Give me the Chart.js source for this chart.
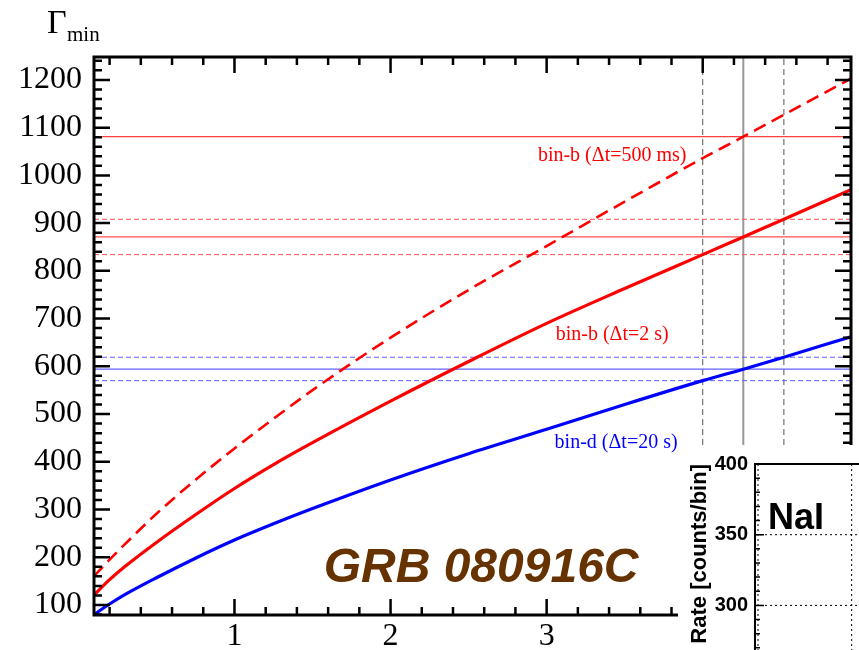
<!DOCTYPE html>
<html>
<head>
<meta charset="utf-8">
<script src="https://cdn.jsdelivr.net/npm/chart.js@4.4.0/dist/chart.umd.min.js"></script>
<style>
  html, body { margin: 0; padding: 0; background: #fff; overflow: hidden; width: 859px; height: 650px; }
  #main { position: absolute; left: 0; top: 0; width: 859px; height: 650px; }
  #inset { position: absolute; left: 678px; top: 445px; width: 222px; height: 260px; background: #fff; }
</style>
</head>
<body>
<div id="main"><canvas id="gammaChart"></canvas></div>
<div id="inset"><canvas id="naiChart"></canvas></div>
<script>
// valores
const tValues     = [0.1, 0.2, 0.3, 0.5, 0.75, 1.0, 1.25, 1.5, 2.0, 2.5, 3.0, 3.5, 4.0, 4.26, 4.52, 4.95];
const gammaB500ms = [160, 195, 228, 291, 362, 428, 490, 550, 660, 760, 852, 945, 1036, 1081, 1127, 1203];
const gammaB2s    = [121, 153, 181, 231, 289, 344, 394, 440, 527, 610, 690, 763, 834, 871, 908, 970];
const gammaD20s   = [80, 102, 122, 157, 198, 236, 270, 302, 362, 417, 468, 520, 570, 594, 619, 662];

const refB500ms = [1081];
const refB2s    = [834, 871, 908];
const refD20s   = [570, 594, 619];
const zLines    = [4.0, 4.26, 4.52];

const xTickValues = [1, 2, 3, 4];
const yTickValues = [100, 200, 300, 400, 500, 600, 700, 800, 900, 1000, 1100, 1200];
const xMin = 0.1, xMax = 4.95, yMin = 79, yMax = 1248;
const zLineLow = 435;

const insetYTicks = [250, 300, 350, 400];
const insetXGrid  = [0, 1];

const RED = '#ff0000', BLUE = '#0000ff';

function curve(vals) { return tValues.map((t, i) => ({ x: t, y: vals[i] })); }
function hLine(v) { return [{ x: xMin, y: v }, { x: xMax, y: v }]; }
function vLine(z) { return [{ x: z, y: zLineLow }, { x: z, y: yMax }]; }

const datasets = [
  { data: curve(gammaB2s), borderColor: RED, borderWidth: 3.2, cubicInterpolationMode: 'monotone' },
  { data: curve(gammaD20s), borderColor: BLUE, borderWidth: 3.2, cubicInterpolationMode: 'monotone' },
  { data: curve(gammaB500ms), borderColor: RED, borderWidth: 2.6, borderDash: [13, 7], cubicInterpolationMode: 'monotone' }
];
refB500ms.forEach(v => datasets.push({ data: hLine(v), borderColor: '#ff4040', borderWidth: 1.2 }));
refB2s.forEach((v, i) => datasets.push({ data: hLine(v), borderColor: '#ff5050', borderWidth: i === 1 ? 1.2 : 1, borderDash: i === 1 ? [] : [5, 3] }));
refD20s.forEach((v, i) => datasets.push({ data: hLine(v), borderColor: '#6060ff', borderWidth: i === 1 ? 1.2 : 1, borderDash: i === 1 ? [] : [5, 3] }));
zLines.forEach((z, i) => datasets.push({ data: vLine(z), borderColor: i === 1 ? '#999' : '#555', borderWidth: i === 1 ? 2 : 1, borderDash: i === 1 ? [] : [6, 4] }));

// textos dentro del grafico (posicion en coordenadas de datos)
const labels = [
  { text: 'bin-b (\u0394t=500 ms)', x: 3.42, y: 1030, color: RED },
  { text: 'bin-b (\u0394t=2 s)', x: 3.42, y: 655, color: RED },
  { text: 'bin-d (\u0394t=20 s)', x: 3.445, y: 429, color: BLUE }
];

const frameTicks = {
  id: 'frameTicks',
  afterDraw(chart) {
    const { ctx, chartArea: a, scales: { x, y } } = chart;
    ctx.save();
    ctx.strokeStyle = '#000';
    ctx.lineWidth = 2.5;
    ctx.beginPath();
    for (let v = 80; v <= 1240; v += 20) {
      const py = y.getPixelForValue(v);
      const len = v % 100 === 0 ? 16 : 8;
      ctx.moveTo(a.left, py); ctx.lineTo(a.left + len, py);
      ctx.moveTo(a.right, py); ctx.lineTo(a.right - len, py);
    }
    for (let i = 1; i <= 24; i++) {
      const px = x.getPixelForValue(i * 0.2);
      const len = i % 5 === 0 ? 16 : 8;
      ctx.moveTo(px, a.top); ctx.lineTo(px, a.top + len);
      ctx.moveTo(px, a.bottom); ctx.lineTo(px, a.bottom - len);
    }
    ctx.stroke();
    ctx.lineWidth = 3;
    ctx.strokeRect(a.left, a.top, a.right - a.left, a.bottom - a.top);

    ctx.textAlign = 'center';
    ctx.textBaseline = 'alphabetic';
    ctx.font = '20px "Liberation Serif"';
    labels.forEach(l => {
      ctx.fillStyle = l.color;
      ctx.fillText(l.text, x.getPixelForValue(l.x), y.getPixelForValue(l.y));
    });
    ctx.font = 'italic bold 48px "Liberation Sans"';
    ctx.fillStyle = '#663300';
    ctx.fillText('GRB 080916C', x.getPixelForValue(2.58), y.getPixelForValue(148));

    // titulo del eje y
    ctx.fillStyle = '#000';
    ctx.textAlign = 'left';
    ctx.font = '34px "Liberation Serif"';
    ctx.fillText('\u0393', 47, 33);
    ctx.font = '21px "Liberation Serif"';
    ctx.fillText('min', 67, 41);
    ctx.restore();
  }
};

new Chart(document.getElementById('gammaChart'), {
  type: 'line',
  data: { datasets: datasets },
  options: {
    responsive: true,
    maintainAspectRatio: false,
    animation: false,
    layout: { padding: { top: 57, right: 8, left: 0, bottom: 0 } },
    plugins: { legend: { display: false }, tooltip: { enabled: false } },
    elements: { point: { radius: 0 } },
    scales: {
      x: {
        type: 'linear', min: xMin, max: xMax,
        grid: { display: false, drawTicks: false }, border: { display: false },
        afterBuildTicks: s => { s.ticks = xTickValues.map(v => ({ value: v })); },
        afterFit: s => { s.height = 35; },
        ticks: { color: '#000', padding: 2, maxRotation: 0, autoSkip: false,
                 font: { family: 'Liberation Serif', size: 32 }, callback: v => String(v) }
      },
      y: {
        type: 'linear', min: yMin, max: yMax,
        grid: { display: false, drawTicks: false }, border: { display: false },
        afterBuildTicks: s => { s.ticks = yTickValues.map(v => ({ value: v })); },
        afterFit: s => { s.width = 94; },
        ticks: { color: '#000', padding: 12, autoSkip: false,
                 font: { family: 'Liberation Serif', size: 32 }, callback: v => String(v) }
      }
    }
  },
  plugins: [frameTicks]
});

// recuadro NaI
const insetFrame = {
  id: 'insetFrame',
  afterDraw(chart) {
    const { ctx, chartArea: a, scales: { x, y } } = chart;
    ctx.save();
    ctx.strokeStyle = '#000';
    ctx.lineWidth = 1;
    ctx.setLineDash([2, 3]);
    ctx.beginPath();
    insetYTicks.forEach(v => {
      const py = y.getPixelForValue(v);
      ctx.moveTo(a.left, py); ctx.lineTo(a.right, py);
    });
    insetXGrid.forEach(v => {
      const px = x.getPixelForValue(v) + (v === 0 ? 3 : 0);
      ctx.moveTo(px, a.top); ctx.lineTo(px, a.bottom);
    });
    ctx.stroke();
    ctx.setLineDash([]);
    ctx.lineWidth = 1.5;
    ctx.beginPath();
    for (let v = 250; v <= 400; v += 10) {
      const py = y.getPixelForValue(v);
      const len = v % 50 === 0 ? 9 : 5;
      ctx.moveTo(a.left, py); ctx.lineTo(a.left + len, py);
    }
    ctx.stroke();
    ctx.lineWidth = 2;
    ctx.beginPath();
    ctx.moveTo(a.left, a.bottom); ctx.lineTo(a.left, a.top); ctx.lineTo(a.right, a.top);
    ctx.stroke();
    ctx.fillStyle = '#000';
    ctx.font = 'bold 36px "Liberation Sans"';
    ctx.textAlign = 'left';
    ctx.fillText('NaI', x.getPixelForValue(0.134), y.getPixelForValue(354));
    ctx.restore();
  }
};

new Chart(document.getElementById('naiChart'), {
  type: 'line',
  data: { datasets: [] },
  options: {
    responsive: true,
    maintainAspectRatio: false,
    animation: false,
    layout: { padding: { top: 19, right: 0, left: 0, bottom: 0 } },
    plugins: { legend: { display: false }, tooltip: { enabled: false } },
    scales: {
      x: {
        type: 'linear', min: 0, max: 1.5,
        grid: { display: false, drawTicks: false }, border: { display: false },
        ticks: { display: false },
        afterFit: s => { s.height = 0; }
      },
      y: {
        type: 'linear', min: 243, max: 400,
        grid: { display: false, drawTicks: false }, border: { display: false },
        afterBuildTicks: s => { s.ticks = insetYTicks.map(v => ({ value: v })); },
        afterFit: s => { s.width = 77; },
        ticks: { color: '#000', padding: 7, font: { family: 'Liberation Sans', size: 20, weight: 'bold' },
                 callback: v => String(v) },
        title: { display: true, text: 'Rate [counts/bin]', align: 'end', color: '#000',
                 font: { family: 'Liberation Sans', size: 22, weight: 'bold' }, padding: { top: 9, bottom: 0 } }
      }
    }
  },
  plugins: [insetFrame]
});
</script>
</body>
</html>
